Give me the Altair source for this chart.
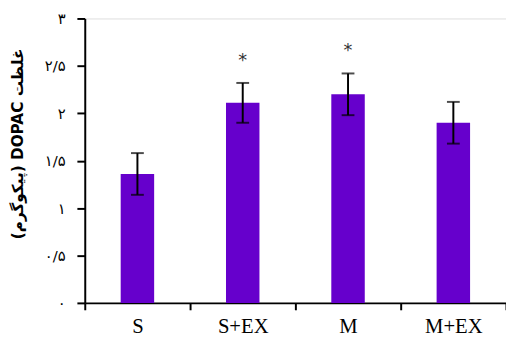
import altair as alt
import pandas as pd

groups = ["S", "S+EX", "M", "M+EX"]
means = [1.36, 2.11, 2.20, 1.90]
errors = [0.22, 0.21, 0.22, 0.22]
star_groups = ["S+EX", "M"]
star_y = [2.55, 2.66]
y_ticks = [0, 0.5, 1, 1.5, 2, 2.5, 3]
y_labels = ["۰", "۰/۵", "۱", "۱/۵", "۲", "۲/۵", "۳"]
y_title = "(پیکوگرم) DOPAC غلظت"

df = pd.DataFrame({"g": groups, "m": means, "e": errors})
df["lo"] = df["m"] - df["e"]
df["hi"] = df["m"] + df["e"]
stars = pd.DataFrame({"g": star_groups, "y": star_y, "t": ["*"] * len(star_groups)})

label_expr = "[" + ",".join("'" + s + "'" for s in y_labels) + "][round(datum.value*2)]"

x = alt.X("g:N", sort=groups, title=None,
          scale=alt.Scale(paddingInner=0, paddingOuter=0),
          axis=alt.Axis(labelAngle=0, labelFont="Liberation Serif", labelFontSize=21,
                        labelColor="black", labelPadding=6, tickBand="extent",
                        tickSize=7, tickWidth=2, tickColor="black",
                        domainColor="black", domainWidth=2))
y_scale = alt.Scale(domain=[0, 3], nice=False)

bars = alt.Chart(df).mark_bar(color="#6600CC", size=34).encode(
    x=x,
    y=alt.Y("m:Q", scale=y_scale, title=y_title,
            axis=alt.Axis(values=y_ticks, labelExpr=label_expr, grid=False,
                          labelFont="DejaVu Sans", labelFontSize=15, labelColor="black",
                          labelPadding=12, tickSize=8, tickWidth=2, tickColor="black",
                          domainColor="black", domainWidth=2,
                          titleFont="DejaVu Sans", titleFontSize=15.5, titleFontWeight="bold",
                          titleColor="black", titleX=-68, titleY=127,
                          titleBaseline="middle", titleAngle=-90)),
)

rules = alt.Chart(df).mark_rule(color="black", strokeWidth=2).encode(
    x=alt.X("g:N", sort=groups), y="lo:Q", y2="hi:Q")
caps_lo = alt.Chart(df).mark_tick(color="black", thickness=2, size=13).encode(
    x=alt.X("g:N", sort=groups), y="lo:Q")
caps_hi = alt.Chart(df).mark_tick(color="black", thickness=2, size=13).encode(
    x=alt.X("g:N", sort=groups), y="hi:Q")
star_text = alt.Chart(stars).mark_text(fontSize=18, font="DejaVu Sans", color="#333333",
                                       baseline="middle").encode(
    x=alt.X("g:N", sort=groups), y="y:Q", text="t:N")

chart = alt.layer(bars, rules, caps_lo, caps_hi, star_text).properties(
    width=428, height=289,
    autosize=alt.AutoSizeParams(type="none"),
    padding={"left": 78, "top": 8, "right": 0, "bottom": 31},
).configure_view(stroke=None).configure(background="white")

chart.save("out.html", embed_options={"renderer": "svg", "actions": False})
